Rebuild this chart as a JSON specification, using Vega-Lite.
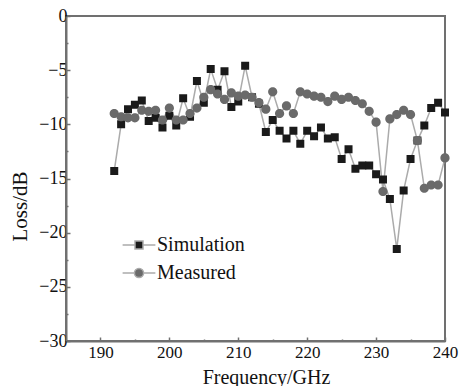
{
  "$schema": "https://vega.github.io/schema/vega-lite/v6.json",
  "width": 379,
  "height": 325,
  "autosize": "none",
  "padding": {"left": 66, "top": 16, "right": 17, "bottom": 45},
  "background": "white",
  "config": {
    "font": "Liberation Serif",
    "view": {"stroke": "#707070", "strokeWidth": 2}
  },
  "data": {
    "values": [
      {"f": 192, "series": "Simulation", "loss": -14.3},
      {"f": 193, "series": "Simulation", "loss": -10.0},
      {"f": 194, "series": "Simulation", "loss": -8.6},
      {"f": 195, "series": "Simulation", "loss": -8.2},
      {"f": 196, "series": "Simulation", "loss": -7.8},
      {"f": 197, "series": "Simulation", "loss": -9.7},
      {"f": 198, "series": "Simulation", "loss": -9.4},
      {"f": 199, "series": "Simulation", "loss": -10.3},
      {"f": 200, "series": "Simulation", "loss": -9.2},
      {"f": 201, "series": "Simulation", "loss": -10.1},
      {"f": 202, "series": "Simulation", "loss": -7.6},
      {"f": 203, "series": "Simulation", "loss": -9.3},
      {"f": 204, "series": "Simulation", "loss": -6.0},
      {"f": 205, "series": "Simulation", "loss": -8.0},
      {"f": 206, "series": "Simulation", "loss": -4.9},
      {"f": 207, "series": "Simulation", "loss": -6.8},
      {"f": 208, "series": "Simulation", "loss": -5.1},
      {"f": 209, "series": "Simulation", "loss": -8.4},
      {"f": 210, "series": "Simulation", "loss": -7.9},
      {"f": 211, "series": "Simulation", "loss": -4.6},
      {"f": 212, "series": "Simulation", "loss": -7.5},
      {"f": 213, "series": "Simulation", "loss": -8.1},
      {"f": 214, "series": "Simulation", "loss": -10.7},
      {"f": 215, "series": "Simulation", "loss": -9.6},
      {"f": 216, "series": "Simulation", "loss": -10.6},
      {"f": 217, "series": "Simulation", "loss": -11.3},
      {"f": 218, "series": "Simulation", "loss": -10.6},
      {"f": 219, "series": "Simulation", "loss": -11.8},
      {"f": 220, "series": "Simulation", "loss": -10.6},
      {"f": 221, "series": "Simulation", "loss": -11.1},
      {"f": 222, "series": "Simulation", "loss": -10.3},
      {"f": 223, "series": "Simulation", "loss": -11.3},
      {"f": 224, "series": "Simulation", "loss": -11.2},
      {"f": 225, "series": "Simulation", "loss": -13.2},
      {"f": 226, "series": "Simulation", "loss": -12.3},
      {"f": 227, "series": "Simulation", "loss": -14.1},
      {"f": 228, "series": "Simulation", "loss": -13.8},
      {"f": 229, "series": "Simulation", "loss": -13.8},
      {"f": 230, "series": "Simulation", "loss": -14.6},
      {"f": 231, "series": "Simulation", "loss": -15.1},
      {"f": 232, "series": "Simulation", "loss": -16.9},
      {"f": 233, "series": "Simulation", "loss": -21.5},
      {"f": 234, "series": "Simulation", "loss": -16.1},
      {"f": 235, "series": "Simulation", "loss": -13.2},
      {"f": 236, "series": "Simulation", "loss": -11.5},
      {"f": 237, "series": "Simulation", "loss": -10.1},
      {"f": 238, "series": "Simulation", "loss": -8.5},
      {"f": 239, "series": "Simulation", "loss": -8.0},
      {"f": 240, "series": "Simulation", "loss": -8.9},
      {"f": 192, "series": "Measured", "loss": -9.0},
      {"f": 193, "series": "Measured", "loss": -9.3},
      {"f": 194, "series": "Measured", "loss": -9.4},
      {"f": 195, "series": "Measured", "loss": -9.4},
      {"f": 196, "series": "Measured", "loss": -8.7},
      {"f": 197, "series": "Measured", "loss": -8.8},
      {"f": 198, "series": "Measured", "loss": -8.7},
      {"f": 199, "series": "Measured", "loss": -9.6},
      {"f": 200, "series": "Measured", "loss": -8.5},
      {"f": 201, "series": "Measured", "loss": -9.6},
      {"f": 202, "series": "Measured", "loss": -9.6},
      {"f": 203, "series": "Measured", "loss": -9.0},
      {"f": 204, "series": "Measured", "loss": -8.5},
      {"f": 205, "series": "Measured", "loss": -7.5},
      {"f": 206, "series": "Measured", "loss": -6.8},
      {"f": 207, "series": "Measured", "loss": -7.2},
      {"f": 208, "series": "Measured", "loss": -7.7},
      {"f": 209, "series": "Measured", "loss": -7.1},
      {"f": 210, "series": "Measured", "loss": -7.4},
      {"f": 211, "series": "Measured", "loss": -7.3},
      {"f": 212, "series": "Measured", "loss": -7.5},
      {"f": 213, "series": "Measured", "loss": -8.0},
      {"f": 214, "series": "Measured", "loss": -8.6},
      {"f": 215, "series": "Measured", "loss": -7.0},
      {"f": 216, "series": "Measured", "loss": -9.0},
      {"f": 217, "series": "Measured", "loss": -8.3},
      {"f": 218, "series": "Measured", "loss": -9.0},
      {"f": 219, "series": "Measured", "loss": -7.0},
      {"f": 220, "series": "Measured", "loss": -7.2},
      {"f": 221, "series": "Measured", "loss": -7.4},
      {"f": 222, "series": "Measured", "loss": -7.5},
      {"f": 223, "series": "Measured", "loss": -7.9},
      {"f": 224, "series": "Measured", "loss": -7.4},
      {"f": 225, "series": "Measured", "loss": -7.7},
      {"f": 226, "series": "Measured", "loss": -7.5},
      {"f": 227, "series": "Measured", "loss": -7.8},
      {"f": 228, "series": "Measured", "loss": -8.1},
      {"f": 229, "series": "Measured", "loss": -8.8},
      {"f": 230, "series": "Measured", "loss": -9.8},
      {"f": 231, "series": "Measured", "loss": -16.2},
      {"f": 232, "series": "Measured", "loss": -9.5},
      {"f": 233, "series": "Measured", "loss": -9.1},
      {"f": 234, "series": "Measured", "loss": -8.7},
      {"f": 235, "series": "Measured", "loss": -9.1},
      {"f": 236, "series": "Measured", "loss": -11.5},
      {"f": 237, "series": "Measured", "loss": -15.9},
      {"f": 238, "series": "Measured", "loss": -15.6},
      {"f": 239, "series": "Measured", "loss": -15.6},
      {"f": 240, "series": "Measured", "loss": -13.1}
    ]
  },
  "encoding": {
    "x": {
      "field": "f",
      "type": "quantitative",
      "scale": {"domain": [185, 240], "nice": false, "zero": false},
      "axis": {
        "title": "Frequency/GHz",
        "values": [190, 195, 200, 205, 210, 215, 220, 225, 230, 235, 240],
        "labelExpr": "datum.value % 10 === 0 ? datum.label : ''",
        "grid": false,
        "domainColor": "#707070",
        "domainWidth": 2,
        "tickColor": "#707070",
        "tickWidth": 1.5,
        "tickSize": {"condition": {"test": "datum.value % 10 !== 0", "value": -2}, "value": -4},
        "labelFont": "Liberation Serif",
        "labelFontSize": 17,
        "labelColor": "#111",
        "labelPadding": 7,
        "labelFlush": false,
        "titleFont": "Liberation Serif",
        "titleFontSize": 20,
        "titleFontWeight": "normal",
        "titleColor": "#111",
        "titleX": 200,
        "titleY": 42,
        "titleBaseline": "alphabetic"
      }
    },
    "y": {
      "field": "loss",
      "type": "quantitative",
      "scale": {"domain": [-30, 0], "nice": false},
      "axis": {
        "title": "Loss/dB",
        "values": [-30, -27.5, -25, -22.5, -20, -17.5, -15, -12.5, -10, -7.5, -5, -2.5, 0],
        "labelExpr": "datum.value % 5 === 0 ? datum.label : ''",
        "grid": false,
        "domainColor": "#707070",
        "domainWidth": 2,
        "tickColor": "#707070",
        "tickWidth": 1.5,
        "tickSize": {"condition": {"test": "datum.value % 5 !== 0", "value": -2}, "value": -4},
        "labelFont": "Liberation Serif",
        "labelFontSize": 18,
        "labelColor": "#111",
        "labelPadding": 3,
        "labelFlush": false,
        "titleFont": "Liberation Serif",
        "titleFontSize": 21,
        "titleFontWeight": "normal",
        "titleColor": "#111",
        "titleX": -46,
        "titleY": 190,
        "titleAngle": -90,
        "titleBaseline": "middle",
        "titleAlign": "center"
      }
    }
  },
  "layer": [
    {
      "mark": {"type": "line", "color": "#ababab", "strokeWidth": 1.5},
      "encoding": {"detail": {"field": "series"}}
    },
    {
      "mark": {"type": "point", "filled": true, "opacity": 1, "size": 64, "strokeWidth": 0},
      "encoding": {
        "color": {
          "field": "series",
          "type": "nominal",
          "sort": ["Simulation", "Measured"],
          "scale": {"domain": ["Simulation", "Measured"], "range": ["#1a1a1a", "#6a6a6a"]},
          "legend": {
            "orient": "none",
            "legendX": 63,
            "legendY": 219,
            "title": null,
            "padding": 0,
            "rowPadding": 8,
            "symbolSize": 64,
            "symbolOpacity": 1,
            "labelOffset": 8,
            "labelFont": "Liberation Serif",
            "labelFontSize": 20,
            "labelColor": "#111",
            "encode": {
              "symbols": {
                "update": {
                  "stroke": {"value": "#ababab"},
                  "strokeWidth": {"value": 1.5}
                }
              }
            }
          }
        },
        "shape": {
          "field": "series",
          "type": "nominal",
          "scale": {
            "domain": ["Simulation", "Measured"],
            "range": [
              "M-4.1,0H-1M1,0H4.1M-1,-1H1V1H-1Z",
              "M-4.1,0H-1.15M1.15,0H4.1M-1.15,0A1.15,1.15,0,1,0,1.15,0A1.15,1.15,0,1,0,-1.15,0Z"
            ]
          }
        }
      }
    }
  ]
}
